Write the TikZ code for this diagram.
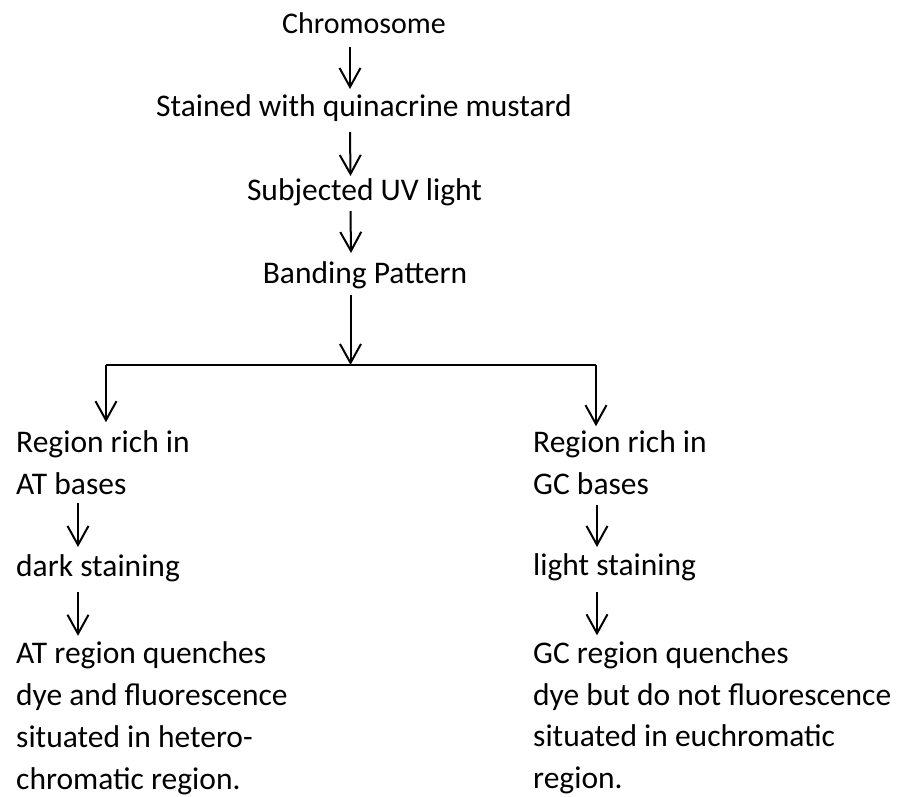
\documentclass[tikz,border=0pt]{standalone}
\usepackage{fontspec}
\setmainfont{Carlito}
\usetikzlibrary{arrows.meta, positioning}

\begin{document}
\begin{tikzpicture}[x=1pt, y=-1pt,
  flow/.style={line width=2pt, -{Straight Barb[length=19pt, width=21pt, line width=2pt]}},
  bar/.style={line width=2pt},
  lbl/.style={inner sep=0pt, font=\fontsize{31.5}{41.7}\selectfont},
  blk/.style={inner sep=0pt, align=left, font=\fontsize{31.5}{41.7}\selectfont}]
\useasboundingbox (0,0) rectangle (900,796);

\node[lbl, anchor=base, font=\fontsize{30}{41.7}\selectfont] (chrom) at (364, 33) {Chromosome};
\node[lbl, anchor=base] (stain) at (364, 116) {Stained with quinacrine mustard};
\node[lbl, anchor=base] (uv) at (364.5, 200) {Subjected UV light};
\node[lbl, anchor=base] (band) at (365, 283) {Banding Pattern};

\draw[flow] ([xshift=-14pt, yshift=-14pt]chrom.base) -- ([xshift=-14pt, yshift=27pt]stain.base);
\draw[flow] ([xshift=-14pt, yshift=-16pt]stain.base) -- ([xshift=-14pt, yshift=24pt]uv.base);
\draw[flow] ([xshift=-14pt, yshift=-11pt]uv.base) -- ([xshift=-14pt, yshift=30pt]band.base);

\coordinate (barL) at (106, 365);
\coordinate (barR) at (596, 365);
\coordinate (barM) at (350.5, 365);
\draw[flow] ([xshift=-14.5pt, yshift=-12pt]band.base) -- (barM);
\draw[bar] (barL) -- (barR);

% multi-line nodes: base is the last line
\node[blk, anchor=base west] (atrich) at (16, 494) {Region rich in\\AT bases};
\node[blk, anchor=base west] (gcrich) at (533, 494) {Region rich in\\GC bases};
\draw[flow] (barL) -- ([yshift=8pt]barL |- atrich.north);
\draw[flow] (barR) -- ([yshift=4pt]barR |- gcrich.north);

\node[lbl, anchor=base west] (dark) at (16, 576) {dark staining};
\node[lbl, anchor=base west] (light) at (533, 575) {light staining};
\draw[flow] ([xshift=62pt, yshift=-9pt]atrich.base west) -- ([xshift=62pt, yshift=29pt]dark.base west);
\draw[flow] ([xshift=64pt, yshift=-11pt]gcrich.base west) -- ([xshift=64pt, yshift=28pt]light.base west);

\node[blk, anchor=base west] (atq) at (16, 789) {AT region quenches\\dye and fluorescence\\situated in hetero-\\chromatic region.};
\node[blk, anchor=base west] (gcq) at (533, 788.5) {GC region quenches\\dye but do not fluorescence\\situated in euchromatic\\region.};
\draw[flow] ([xshift=62pt, yshift=-16pt]dark.base west) -- ([xshift=62pt, yshift=6pt]dark.base west |- atq.north);
\draw[flow] ([xshift=64pt, yshift=-17pt]light.base west) -- ([xshift=64pt, yshift=6pt]light.base west |- gcq.north);
\end{tikzpicture}
\end{document}
